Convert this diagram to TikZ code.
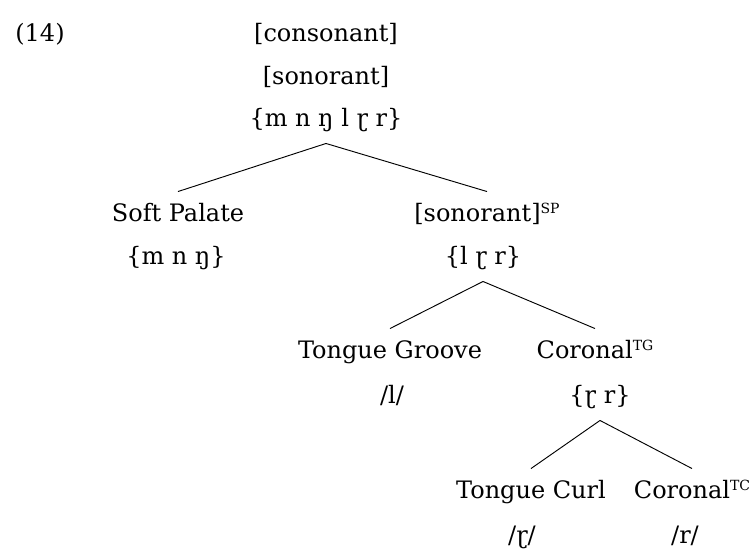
\documentclass[tikz,border=0pt]{standalone}
\usepackage{fontspec}
\setmainfont{DejaVu Serif}
\newcommand{\tierref}[1]{\raisebox{0.62ex}{\fontsize{10.5}{10.5}\selectfont #1}}

\begin{document}
\begin{tikzpicture}[x=0.75pt,y=-0.75pt,line width=0.7pt,
  every node/.style={font=\fontsize{18}{22}\selectfont},
  feat/.style={inner xsep=0pt,inner ysep=8pt,text height=14pt,text depth=4.5pt}]
  \useasboundingbox (0,0) rectangle (752,550);
  \node[feat] (num) at (40,35) {(14)};
  % root
  \node[feat] (cons) at (326,35) {[consonant]};
  \node[feat] (sonor) at (326,78) {[sonorant]};
  \node[feat] (allset) at (326,120) {\{m n ŋ l ɽ r\}};
  % first split
  \node[feat] (soft) at (178,215) {Soft Palate};
  \node[feat] (softset) at (176,258) {\{m n ŋ\}};
  \node[feat] (sonsp) at (487,215) {[sonorant]\tierref{SP}};
  \node[feat] (sonset) at (483,258) {\{l ɽ r\}};
  % second split
  \node[feat] (groove) at (390,352) {Tongue Groove};
  \node[feat] (lseg) at (392,397) {/l/};
  \node[feat] (cortg) at (595,352) {Coronal\tierref{TG}};
  \node[feat] (corset) at (600,397) {\{ɽ r\}};
  % third split
  \node[feat] (curl) at (531,492) {Tongue Curl};
  \node[feat] (flap) at (522,537) {/ɽ/};
  \node[feat] (cortc) at (692,492) {Coronal\tierref{TC}};
  \node[feat] (rseg) at (685,537) {/r/};

  \draw (allset.south) -- (soft.north);
  \draw (allset.south) -- (sonsp.north);
  \draw (sonset.south) -- (groove.north);
  \draw (sonset.south) -- (cortg.north);
  \draw (corset.south) -- (curl.north);
  \draw (corset.south) -- (cortc.north);
\end{tikzpicture}
\end{document}
